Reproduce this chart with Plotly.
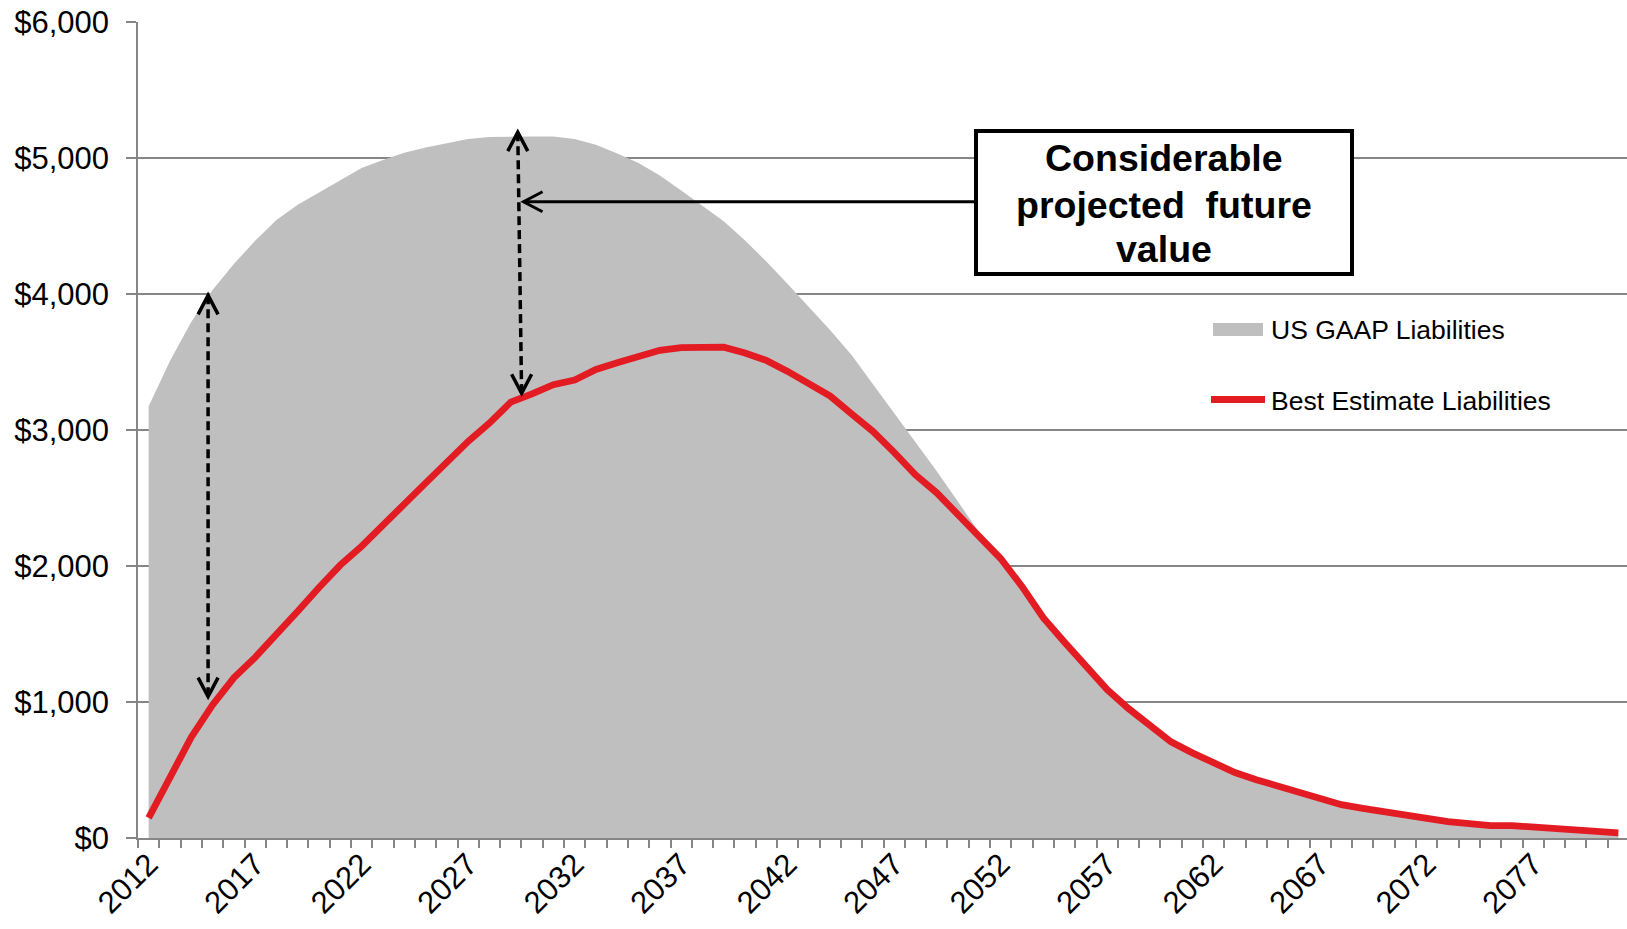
import plotly.graph_objects as go

# Projection years and liability series ($)
years = list(range(2012, 2082))

us_gaap = [
    3175, 3508, 3795, 4030, 4220, 4392, 4545, 4656, 4747, 4838,
    4927, 4985, 5038, 5078, 5111, 5140, 5155, 5158, 5158, 5158,
    5140, 5098, 5034, 4963, 4872, 4761, 4650, 4535, 4394, 4239,
    4074, 3906, 3734, 3552, 3340, 3125, 2910, 2697, 2473, 2245,
    2055, 1850, 1620, 1440, 1260, 1092, 952, 832, 707, 626,
    560, 481, 429, 385, 341, 297, 245, 218, 191, 164,
    147, 120, 106, 91, 91, 79, 66, 66, 44, 37,
]

best_estimate = [
    148, 457, 741, 978, 1178, 1328, 1491, 1667, 1842, 2007,
    2145, 2293, 2455, 2609, 2771, 2916, 3051, 3205, 3265, 3333,
    3367, 3445, 3495, 3542, 3586, 3606, 3609, 3609, 3566, 3512,
    3431, 3333, 3249, 3118, 2990, 2835, 2670, 2538, 2380, 2210,
    2055, 1850, 1620, 1440, 1260, 1092, 952, 832, 707, 626,
    560, 481, 429, 385, 341, 297, 245, 218, 191, 164,
    147, 120, 106, 91, 91, 79, 66, 66, 44, 37,
]

label_years = years[::5]
y_ticks = [0, 1000, 2000, 3000, 4000, 5000, 6000]
y_tick_labels = [f"${v:,}" for v in y_ticks]

series_names = ["US GAAP Liabilities", "Best Estimate Liabilities"]
callout_lines = ["Considerable", "projected&nbsp; future", "value"]

GREY_FILL = "#BFBFBF"
RED = "#E31B23"
AXIS_GREY = "#868686"
FONT = "Liberation Sans, Arial, sans-serif"

W, H = 1627, 929
ML, MR, MT, MB = 138, 0, 22, 91
PW, PH = W - ML - MR, H - MT - MB


def px(xp):
    return (xp - ML) / PW


def py(yp):
    return (H - MB - yp) / PH


fig = go.Figure()

fig.add_trace(go.Scatter(
    x=years, y=us_gaap, mode="lines", name=series_names[0],
    fill="tozeroy", fillcolor=GREY_FILL,
    line=dict(color=GREY_FILL, width=0),
    hoverinfo="x+y", showlegend=False,
))
fig.add_trace(go.Scatter(
    x=years, y=best_estimate, mode="lines", name=series_names[1],
    line=dict(color=RED, width=6.8),
    hoverinfo="x+y", showlegend=False,
))

shapes = []
annotations = []

# Double-headed dashed arrows showing the gap between the two measures
gap_arrows = [
    (2014.79, 2014.79, 3990, 1040),
    (2029.33, 2029.51, 5190, 3270),
]
for xt, xb, yt, yb in gap_arrows:
    shapes.append(dict(type="line", xref="x", yref="y", x0=xt, y0=yt, x1=xb, y1=yb,
                       line=dict(color="black", width=3.5, dash="9px,5px")))
    shapes.append(dict(type="path", xref="x", yref="y", xsizemode="pixel", ysizemode="pixel",
                       xanchor=xt, yanchor=yt, path="M -10,-19 L 0,0 L 10,-19",
                       line=dict(color="black", width=3.5)))
    shapes.append(dict(type="path", xref="x", yref="y", xsizemode="pixel", ysizemode="pixel",
                       xanchor=xb, yanchor=yb, path="M -10,19 L 0,0 L 10,19",
                       line=dict(color="black", width=3.5)))

# Pointer from the callout box to the gap arrow
pointer_x, pointer_y = 2029.6, 4678
box_left_x = 2011.5 + (975 - ML) / 21.3
shapes.append(dict(type="line", xref="x", yref="y", x0=pointer_x, y0=pointer_y,
                   x1=box_left_x, y1=pointer_y, line=dict(color="black", width=3)))
shapes.append(dict(type="path", xref="x", yref="y", xsizemode="pixel", ysizemode="pixel",
                   xanchor=pointer_x, yanchor=pointer_y, path="M 19,10 L 0,0 L 19,-10",
                   line=dict(color="black", width=3)))

# Callout box with three centred lines of bold text
shapes.append(dict(type="rect", xref="paper", yref="paper",
                   x0=px(976), x1=px(1352), y0=py(274), y1=py(131),
                   line=dict(color="black", width=4), fillcolor="white"))
for line_text, line_y in zip(callout_lines, [158, 204.5, 249]):
    annotations.append(dict(xref="paper", yref="paper", x=px(1164), y=py(line_y),
                            text=f"<b>{line_text}</b>", showarrow=False,
                            xanchor="center", yanchor="middle", align="center",
                            font=dict(family=FONT, size=37.5, color="black")))

# Legend
shapes.append(dict(type="rect", xref="paper", yref="paper",
                   x0=px(1213), x1=px(1263), y0=py(336), y1=py(323),
                   line=dict(width=0), fillcolor=GREY_FILL))
shapes.append(dict(type="line", xref="paper", yref="paper",
                   x0=px(1211), x1=px(1265), y0=py(399.5), y1=py(399.5),
                   line=dict(color=RED, width=6.8)))
annotations.append(dict(xref="paper", yref="paper", x=px(1269), y=py(330),
                        text=series_names[0], showarrow=False, xanchor="left", yanchor="middle",
                        font=dict(family=FONT, size=26.5, color="black")))
annotations.append(dict(xref="paper", yref="paper", x=px(1269), y=py(401),
                        text=series_names[1], showarrow=False, xanchor="left", yanchor="middle",
                        font=dict(family=FONT, size=26.5, color="black")))

fig.update_layout(
    width=W, height=H,
    margin=dict(l=ML, r=MR, t=MT, b=MB, pad=0),
    paper_bgcolor="white", plot_bgcolor="white",
    font=dict(family=FONT, color="black"),
    showlegend=False,
    shapes=shapes,
    annotations=annotations,
    xaxis=dict(
        range=[2011.5, 2011.5 + PW / 21.3],
        tickmode="array", tickvals=label_years, ticktext=[str(y) for y in label_years],
        tickangle=-45, ticks="", tickfont=dict(family=FONT, size=31, color="black"),
        ticklabelstandoff=-6,
        showgrid=False, zeroline=False,
        showline=True, linecolor=AXIS_GREY, linewidth=1.5,
        minor=dict(ticks="outside", tickmode="linear", tick0=2011.5, dtick=1,
                   ticklen=8, tickcolor=AXIS_GREY, tickwidth=1.5, showgrid=False),
    ),
    yaxis=dict(
        range=[0, 6000], tickmode="array", tickvals=y_ticks, ticktext=y_tick_labels,
        ticks="outside", ticklen=10,
        tickcolor=AXIS_GREY, tickwidth=1.5,
        tickfont=dict(family=FONT, size=31, color="black"),
        showgrid=True, gridcolor=AXIS_GREY, gridwidth=1.5,
        zeroline=False, showline=True, linecolor=AXIS_GREY, linewidth=1.5,
        ticklabelstandoff=11,
    ),
)

fig.write_html("out.html")
